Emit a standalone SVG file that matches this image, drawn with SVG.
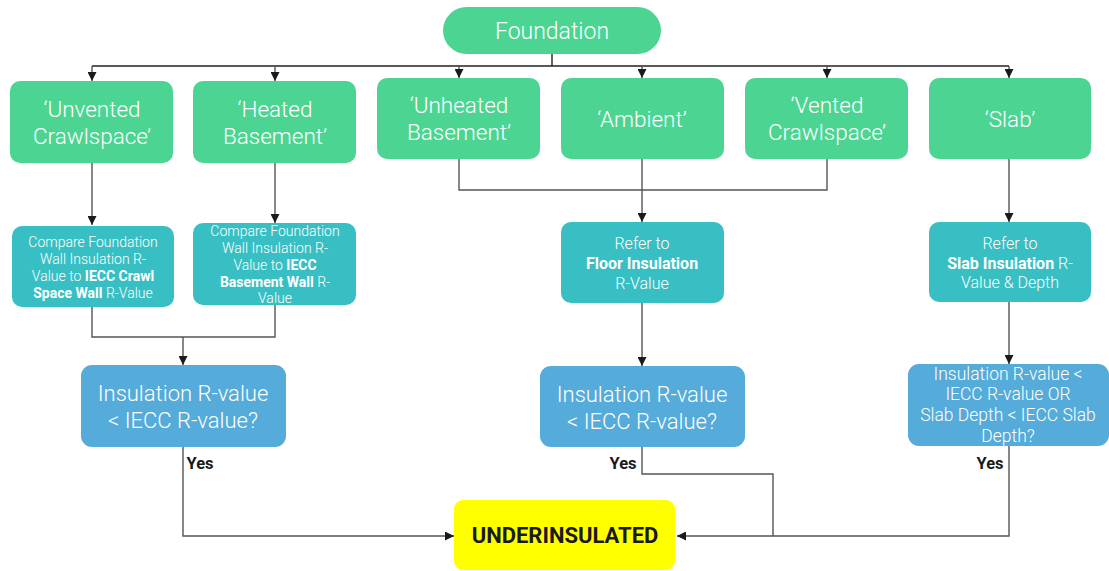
<svg xmlns="http://www.w3.org/2000/svg" width="1109" height="571" viewBox="0 0 1109 571">
<defs>
<marker id="arr" viewBox="0 0 10 10" refX="10" refY="5" markerWidth="9" markerHeight="9" markerUnits="userSpaceOnUse" orient="auto">
<path d="M0,0 L10,5 L0,10 z" fill="#1a1a1a"/>
</marker>
<style>
.g{fill:#4CD592}
.t{fill:#38BFC3}
.b{fill:#55ABD9}
.y{fill:#FFFF00}
text{font-family:Roboto,"Liberation Sans",sans-serif;text-anchor:middle;fill:#fff;font-weight:300}
.bo{font-weight:bold}
.f{font-size:23px}
.l{font-size:22.5px}
.s{font-size:14px}
.m{font-size:16px}
.d{font-size:22px}
.d3{font-size:17.5px}
.k{fill:#1a1a1a;font-weight:bold}
.c{fill:none;stroke:#555;stroke-width:1.4}
.a{marker-end:url(#arr)}
</style>
</defs>
<rect width="1109" height="571" fill="#fff"/>
<g id="connectors">
<path class="c" d="M552,54 V66" style="stroke:#222"/>
<path class="c" d="M92,66 H1009" style="stroke:#222"/>
<path class="c a" d="M92,66 V81"/>
<path class="c a" d="M275,66 V81"/>
<path class="c a" d="M459,66 V78"/>
<path class="c a" d="M642,66 V78"/>
<path class="c a" d="M827,66 V78"/>
<path class="c a" d="M1009,66 V78"/>
<path class="c a" d="M92,163 V225"/>
<path class="c a" d="M275,163 V223"/>
<path class="c" d="M92,307 V337 H275 V305"/>
<path class="c a" d="M183,337 V365"/>
<path class="c" d="M459,159 V190 H827 V159"/>
<path class="c a" d="M642,159 V222"/>
<path class="c a" d="M642,303 V366"/>
<path class="c a" d="M1009,159 V222"/>
<path class="c a" d="M1009,302 V364"/>
<path class="c a" d="M183,447 V536 H454"/>
<path class="c" d="M642,447 V474 H773 V536"/>
<path class="c a" d="M1009,446 V536 H677"/>
</g>
<g id="foundation">
<rect class="g" x="443" y="7" width="218" height="47" rx="23.5"/>
<text class="f" x="552" y="39">Foundation</text>
</g>
<g id="unvented">
<rect class="g" x="10" y="81" width="163" height="82" rx="10"/>
<text class="l" x="92" y="117">‘Unvented</text>
<text class="l" x="92" y="144">Crawlspace’</text>
</g>
<g id="heated">
<rect class="g" x="193" y="81" width="163" height="82" rx="10"/>
<text class="l" x="275" y="117">‘Heated</text>
<text class="l" x="275" y="144">Basement’</text>
</g>
<g id="unheated">
<rect class="g" x="377" y="78" width="163" height="81" rx="10"/>
<text class="l" x="459" y="113">‘Unheated</text>
<text class="l" x="459" y="140">Basement’</text>
</g>
<g id="ambient">
<rect class="g" x="561" y="78" width="163" height="81" rx="10"/>
<text class="l" x="642" y="127">‘Ambient’</text>
</g>
<g id="vented">
<rect class="g" x="745" y="78" width="163" height="81" rx="10"/>
<text class="l" x="827" y="113">‘Vented</text>
<text class="l" x="827" y="140">Crawlspace’</text>
</g>
<g id="slab">
<rect class="g" x="929" y="78" width="162" height="81" rx="10"/>
<text class="l" x="1010" y="127">‘Slab’</text>
</g>
<g id="compare-crawl">
<rect class="t" x="12" y="226" width="162" height="81" rx="10"/>
<text class="s" x="93" y="247">Compare Foundation</text>
<text class="s" x="93" y="264">Wall Insulation R-</text>
<text class="s" x="93" y="281">Value to <tspan class="bo">IECC Crawl</tspan></text>
<text class="s" x="93" y="298"><tspan class="bo">Space Wall</tspan> R-Value</text>
</g>
<g id="compare-basement">
<rect class="t" x="193" y="223" width="163" height="82" rx="10"/>
<text class="s" x="275" y="236">Compare Foundation</text>
<text class="s" x="275" y="253">Wall Insulation R-</text>
<text class="s" x="275" y="270">Value to <tspan class="bo">IECC</tspan></text>
<text class="s" x="275" y="287"><tspan class="bo">Basement Wall</tspan> R-</text>
<text class="s" x="275" y="303">Value</text>
</g>
<g id="refer-floor">
<rect class="t" x="561" y="222" width="163" height="81" rx="10"/>
<text class="m" x="642" y="249">Refer to</text>
<text class="m bo" x="642" y="269">Floor Insulation</text>
<text class="m" x="642" y="289">R-Value</text>
</g>
<g id="refer-slab">
<rect class="t" x="929" y="222" width="162" height="80" rx="10"/>
<text class="m" x="1010" y="249">Refer to</text>
<text class="m" x="1010" y="269"><tspan class="bo">Slab Insulation</tspan> R-</text>
<text class="m" x="1010" y="288">Value &amp; Depth</text>
</g>
<g id="decision-1">
<rect class="b" x="81" y="365" width="205" height="82" rx="11"/>
<text class="d" x="183" y="401">Insulation R-value</text>
<text class="d" x="183" y="428">&lt; IECC R-value?</text>
</g>
<g id="decision-2">
<rect class="b" x="540" y="366" width="205" height="81" rx="11"/>
<text class="d" x="642" y="402">Insulation R-value</text>
<text class="d" x="642" y="429">&lt; IECC R-value?</text>
</g>
<g id="decision-3">
<rect class="b" x="908" y="364" width="201" height="82" rx="11"/>
<text class="d3" x="1008" y="380">Insulation R-value &lt;</text>
<text class="d3" x="1008" y="400">IECC R-value OR</text>
<text class="d3" x="1008" y="421">Slab Depth &lt; IECC Slab</text>
<text class="d3" x="1008" y="442">Depth?</text>
</g>
<g id="yes-labels">
<text class="k" x="200" y="469" font-size="16.5">Yes</text>
<text class="k" x="623" y="469" font-size="16.5">Yes</text>
<text class="k" x="990" y="469" font-size="16.5">Yes</text>
</g>
<g id="underinsulated">
<rect class="y" x="454" y="500" width="221" height="70" rx="9"/>
<text class="k" x="565" y="543" font-size="22">UNDERINSULATED</text>
</g>
</svg>
